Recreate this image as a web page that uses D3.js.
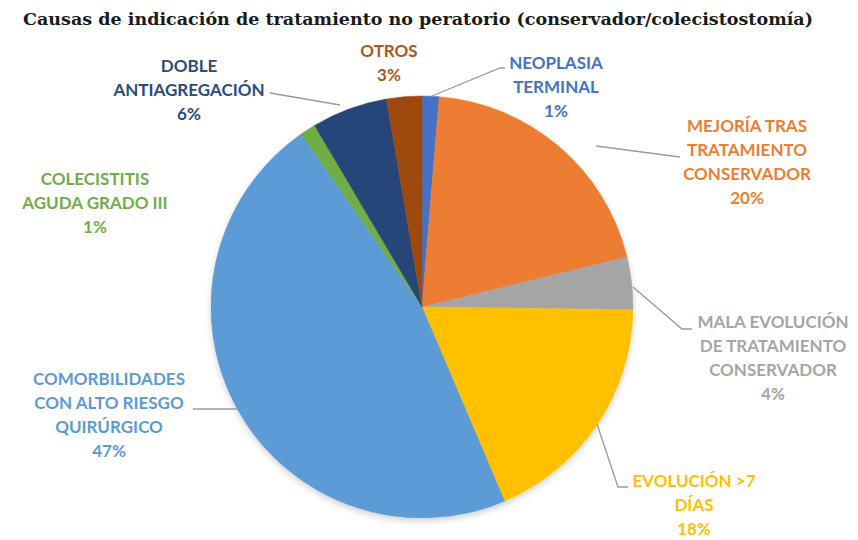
<!DOCTYPE html>
<html>
<head>
<meta charset="utf-8">
<script src="https://cdn.jsdelivr.net/npm/d3@7/dist/d3.min.js"></script>
<style>
  html, body { margin: 0; padding: 0; background: #ffffff; }
  svg { display: block; }
</style>
</head>
<body>
<svg id="chart" width="858" height="540"></svg>
<script>
// ---- data ----
const title = "Causas de indicación de tratamiento no peratorio (conservador/colecistostomía)";
const categories = [
  "NEOPLASIA TERMINAL",
  "MEJORÍA TRAS TRATAMIENTO CONSERVADOR",
  "MALA EVOLUCIÓN DE TRATAMIENTO CONSERVADOR",
  "EVOLUCIÓN >7 DÍAS",
  "COMORBILIDADES CON ALTO RIESGO QUIRÚRGICO",
  "COLECISTITIS AGUDA GRADO III",
  "DOBLE ANTIAGREGACIÓN",
  "OTROS"
];
const values = [1.3, 19.9, 4.0, 18.4, 46.7, 1.2, 5.8, 2.7];
const percentLabels = ["1%", "20%", "4%", "18%", "47%", "1%", "6%", "3%"];
const labelLines = [
  ["NEOPLASIA", "TERMINAL"],
  ["MEJORÍA TRAS", "TRATAMIENTO", "CONSERVADOR"],
  ["MALA EVOLUCIÓN", "DE TRATAMIENTO", "CONSERVADOR"],
  ["EVOLUCIÓN >7", "DÍAS"],
  ["COMORBILIDADES", "CON ALTO RIESGO", "QUIRÚRGICO"],
  ["COLECISTITIS", "AGUDA GRADO III"],
  ["DOBLE", "ANTIAGREGACIÓN"],
  ["OTROS"]
];
const colors = ["#4472C4", "#ED7D31", "#A5A5A5", "#FFC000", "#5B9BD5", "#70AD47", "#264478", "#9E480E"];
const labelColors = ["#4472C4", "#ED7D31", "#A5A5A5", "#FFC000", "#5B9BD5", "#70AD47", "#2B4A80", "#B0561A"];

// ---- layout (positions, not data) ----
const cx = 422, cy = 307, R = 211;
const labelPos = [
  [556, 69], [747, 132], [773, 328], [694, 487],
  [109, 385], [95, 185], [189, 72], [389, 57]
];
const lineGap = 24;
const leaders = [
  [0, [[505, 68], [500, 68], [432, 96]]],
  [1, [[680, 157], [596, 146]]],
  [2, [[692, 329], [682, 329], [633, 287]]],
  [3, [[628, 487], [618, 487], [597, 424]]],
  [4, [[193, 409], [237, 409]]],
  [6, [[270, 93], [340, 105]]]
];

const svg = d3.select("#chart");

const defs = svg.append("defs");
const f = defs.append("filter").attr("id", "shadow").attr("x", "-10%").attr("y", "-10%").attr("width", "120%").attr("height", "125%");
f.append("feDropShadow").attr("dx", 0).attr("dy", 3).attr("stdDeviation", 3).attr("flood-color", "#000").attr("flood-opacity", 0.18);

// title
svg.append("text")
  .attr("x", 418).attr("y", 25)
  .attr("text-anchor", "middle")
  .attr("font-family", "'DejaVu Serif Condensed', 'DejaVu Serif', 'Liberation Serif', serif")
  .attr("font-weight", "bold")
  .attr("font-size", 17)
  .attr("textLength", 790)
  .attr("lengthAdjust", "spacingAndGlyphs")
  .attr("fill", "#1a1a1a")
  .text(title);

const pie = d3.pie().sort(null).value(d => d)
  .startAngle(0).endAngle(2 * Math.PI);
const arcs = pie(values);
const arc = d3.arc().innerRadius(0).outerRadius(R);

const g = svg.append("g").attr("transform", `translate(${cx},${cy})`);
g.append("g").attr("filter", "url(#shadow)")
  .selectAll("path").data(arcs).enter().append("path")
  .attr("d", arc)
  .attr("fill", (d, i) => colors[i])
  .attr("stroke", (d, i) => colors[i])
  .attr("stroke-width", 0.5);

// leader lines
const line = d3.line();
svg.append("g").selectAll("path").data(leaders).enter().append("path")
  .attr("d", d => line(d[1]))
  .attr("fill", "none")
  .attr("stroke", "#9a9a9a")
  .attr("stroke-width", 1.3);

// labels
const lg = svg.append("g")
  .attr("font-family", "Lato, 'Open Sans', sans-serif")
  .attr("font-weight", "bold")
  .attr("font-size", 17)
  .attr("text-anchor", "middle");
categories.forEach((c, i) => {
  const [x, y] = labelPos[i];
  const lines = labelLines[i].concat([percentLabels[i]]);
  const t = lg.append("text").attr("fill", labelColors[i]).attr("x", x).attr("y", y);
  lines.forEach((s, k) => {
    t.append("tspan").attr("x", x).attr("y", y + k * lineGap).text(s);
  });
});
</script>
</body>
</html>
